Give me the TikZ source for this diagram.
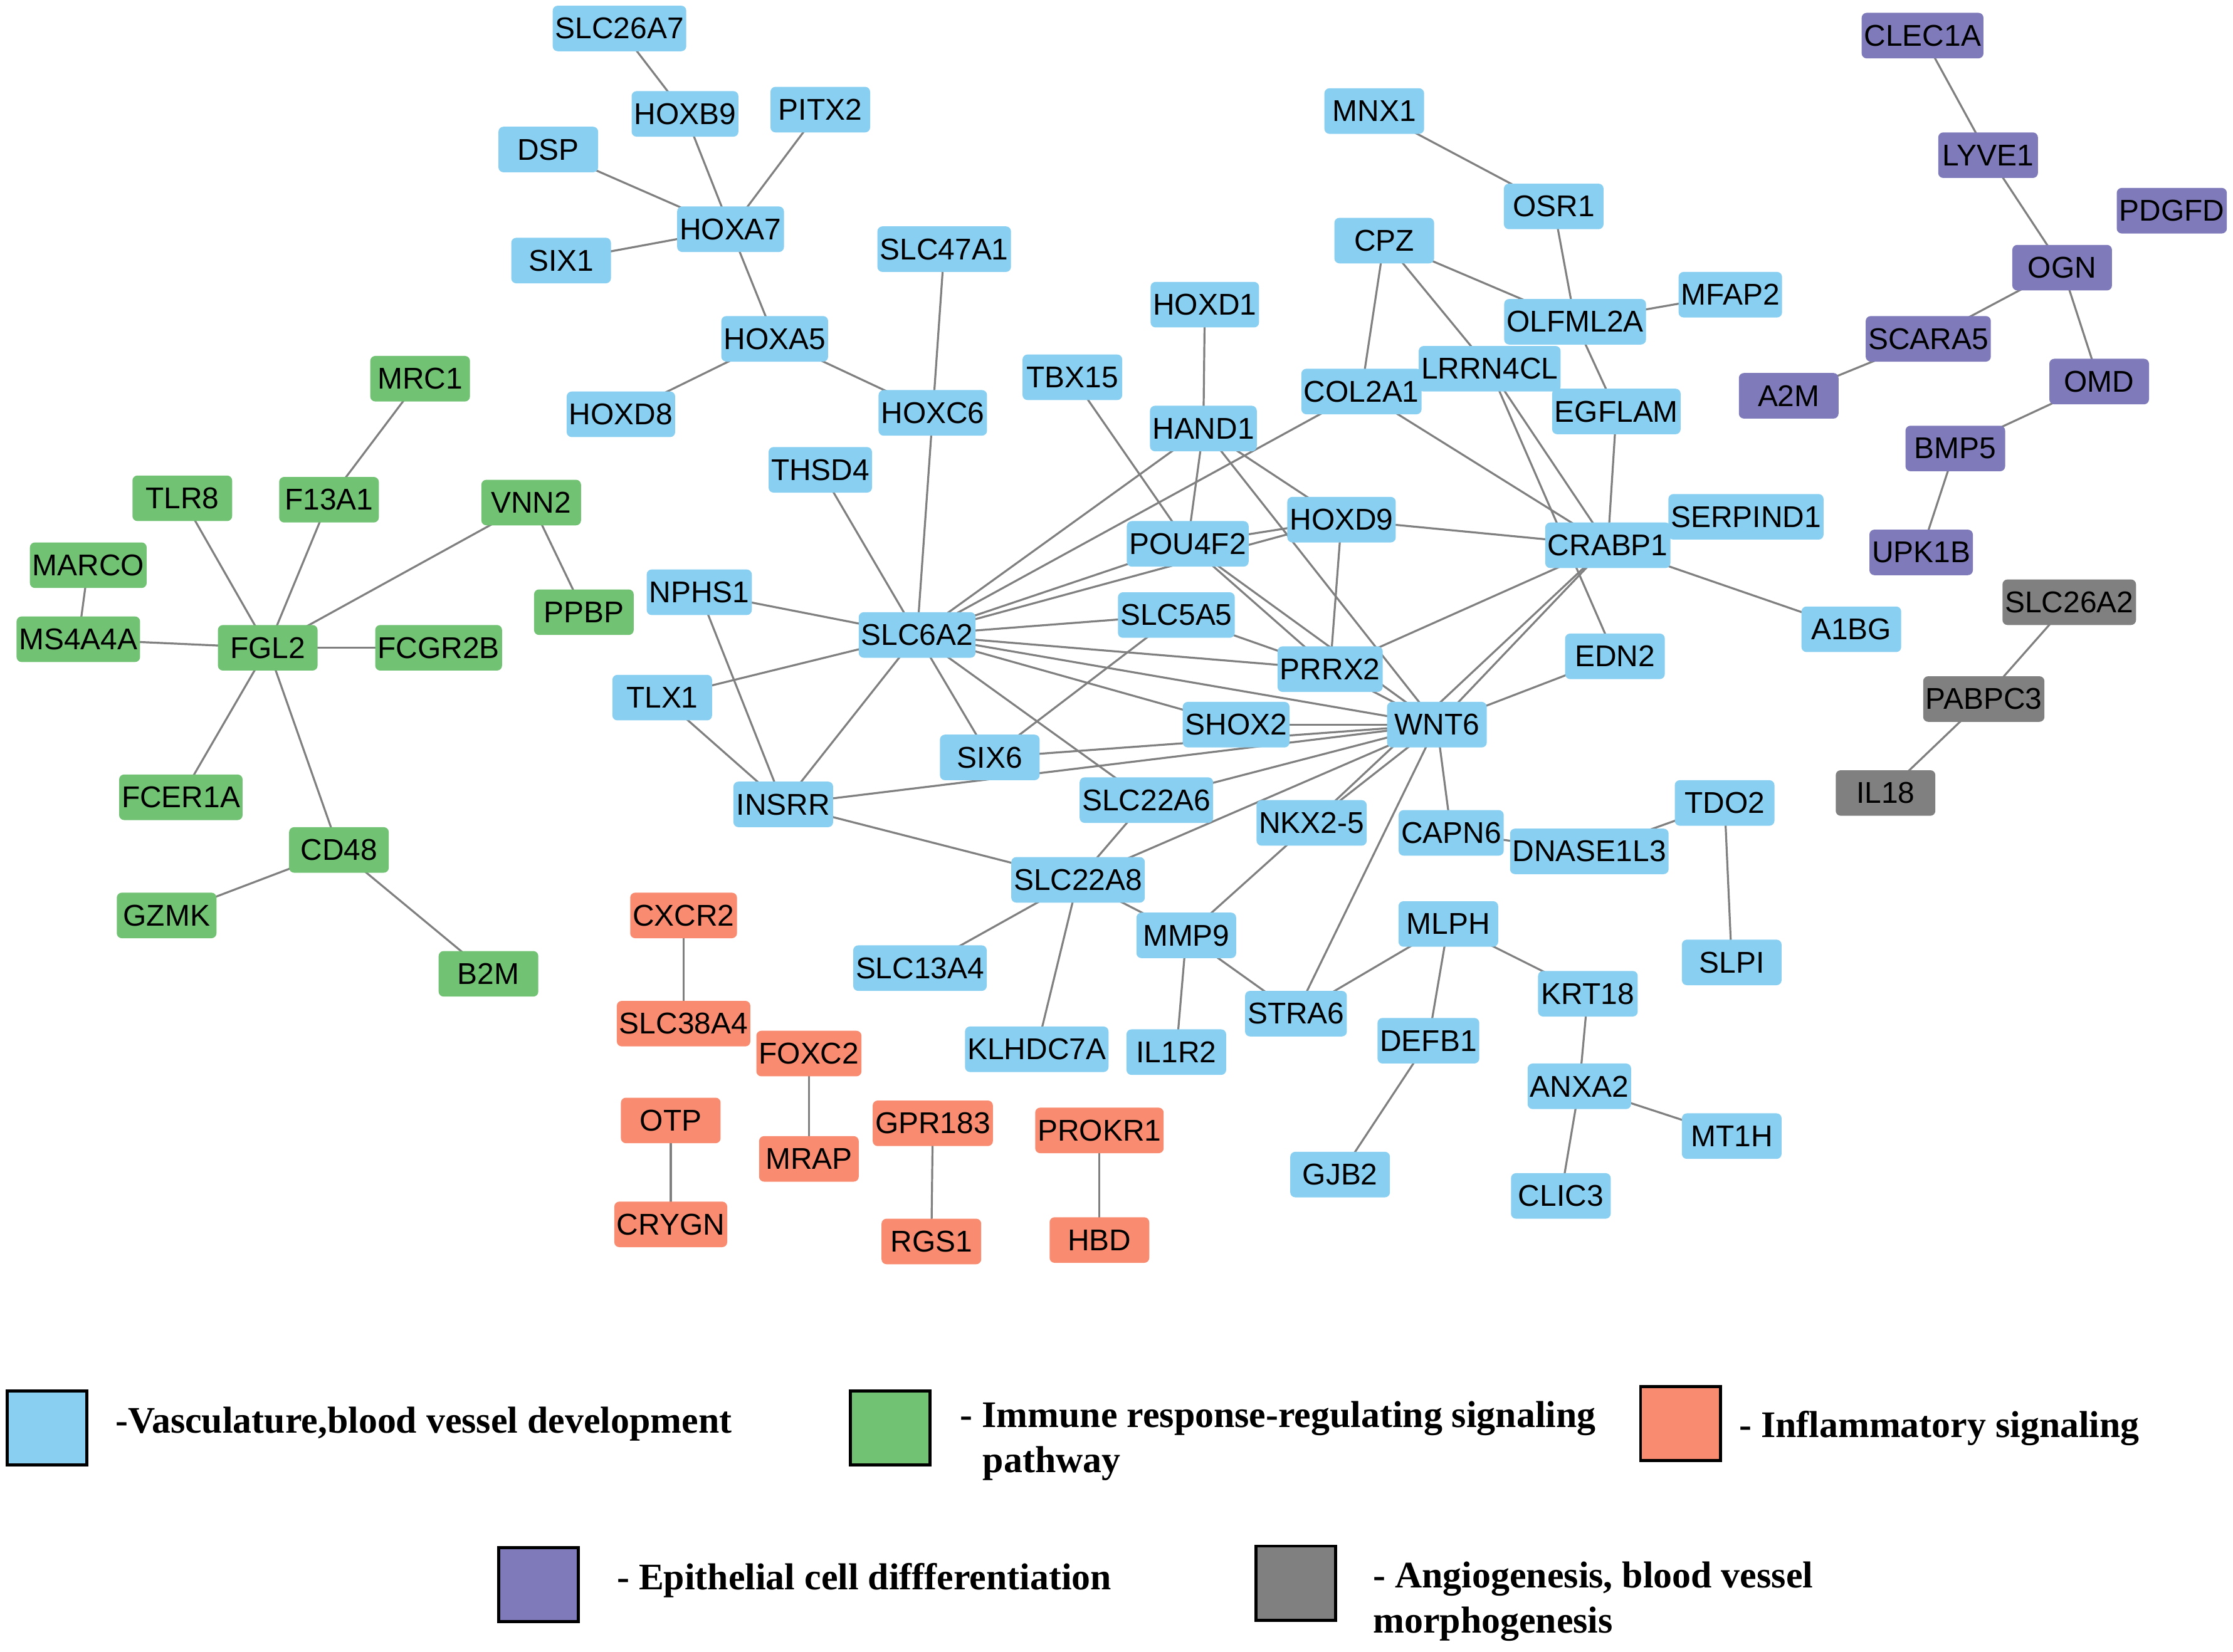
\documentclass[tikz,border=0pt]{standalone}
\usepackage{fontspec}
\setmainfont{Liberation Sans}
\newfontfamily\legendfont{Liberation Serif}
\usepackage{tikz}
\usetikzlibrary{shapes,arrows,positioning}
\pgfdeclarelayer{background}
\pgfsetlayers{background,main}
\definecolor{vasc}{RGB}{137,207,242}
\definecolor{immu}{RGB}{114,194,116}
\definecolor{infl}{RGB}{249,140,112}
\definecolor{epit}{RGB}{127,123,186}
\definecolor{angi}{RGB}{128,128,128}
\tikzstyle{gene} = [rectangle, rounded corners=2pt, minimum width=1.4cm, minimum height=0.64cm, inner xsep=1pt, font=\fontsize{12}{12}\selectfont]
\tikzstyle{blue} = [gene, fill=vasc]
\tikzstyle{green} = [gene, fill=immu]
\tikzstyle{orange} = [gene, fill=infl]
\tikzstyle{purple} = [gene, fill=epit]
\tikzstyle{grey} = [gene, fill=angi]
\tikzstyle{line} = [draw, color=black!50, line width=0.8pt]
\tikzstyle{key} = [rectangle, draw=black, line width=1.2pt, minimum width=1.12cm, minimum height=1.04cm]
\tikzstyle{keytext} = [anchor=west, font=\legendfont\bfseries\fontsize{15}{18}\selectfont, align=left]

\begin{document}
\begin{tikzpicture}[x=0.02cm, y=-0.02cm]
    \useasboundingbox (0,0) rectangle (1568,1160);
    % blue nodes
    \node [blue] (slc26a7) at (435,20) {SLC26A7};
    \node [blue] (hoxb9) at (481,80) {HOXB9};
    \node [blue] (pitx2) at (576,77) {PITX2};
    \node [blue] (dsp) at (385,105) {DSP};
    \node [blue] (hoxa7) at (513,161) {HOXA7};
    \node [blue] (six1) at (394,183) {SIX1};
    \node [blue] (slc47a1) at (663,175) {SLC47A1};
    \node [blue] (hoxa5) at (544,238) {HOXA5};
    \node [blue] (hoxd8) at (436,291) {HOXD8};
    \node [blue] (hoxc6) at (655,290) {HOXC6};
    \node [blue] (tbx15) at (753,265) {TBX15};
    \node [blue] (hoxd1) at (846,214) {HOXD1};
    \node [blue] (hand1) at (845,301) {HAND1};
    \node [blue] (thsd4) at (576,330) {THSD4};
    \node [blue] (mnx1) at (965,78) {MNX1};
    \node [blue] (osr1) at (1091,145) {OSR1};
    \node [blue] (cpz) at (972,169) {CPZ};
    \node [blue] (olfml2a) at (1106,226) {OLFML2A};
    \node [blue] (mfap2) at (1215,207) {MFAP2};
    \node [blue] (lrrn4cl) at (1046,259) {LRRN4CL};
    \node [blue] (col2a1) at (956,275) {COL2A1};
    \node [blue] (egflam) at (1135,289) {EGFLAM};
    \node [blue] (hoxd9) at (942,365) {HOXD9};
    \node [blue] (pou4f2) at (834,382) {POU4F2};
    \node [blue] (crabp1) at (1129,383) {CRABP1};
    \node [blue] (serpind1) at (1226,363) {SERPIND1};
    \node [blue] (nphs1) at (491,416) {NPHS1};
    \node [blue] (slc5a5) at (826,432) {SLC5A5};
    \node [blue] (slc6a2) at (644,446) {SLC6A2};
    \node [blue] (a1bg) at (1300,442) {A1BG};
    \node [blue] (prrx2) at (934,470) {PRRX2};
    \node [blue] (edn2) at (1134,461) {EDN2};
    \node [blue] (tlx1) at (465,490) {TLX1};
    \node [blue] (shox2) at (868,509) {SHOX2};
    \node [blue] (wnt6) at (1009,509) {WNT6};
    \node [blue] (six6) at (695,532) {SIX6};
    \node [blue] (insrr) at (550,565) {INSRR};
    \node [blue] (slc22a6) at (805,562) {SLC22A6};
    \node [blue] (nkx25) at (921,578) {NKX2-5};
    \node [blue] (capn6) at (1019,585) {CAPN6};
    \node [blue] (dnase1l3) at (1116,598) {DNASE1L3};
    \node [blue] (tdo2) at (1211,564) {TDO2};
    \node [blue] (slc22a8) at (757,618) {SLC22A8};
    \node [blue] (mmp9) at (833,657) {MMP9};
    \node [blue] (slc13a4) at (646,680) {SLC13A4};
    \node [blue] (mlph) at (1017,649) {MLPH};
    \node [blue] (krt18) at (1115,698) {KRT18};
    \node [blue] (slpi) at (1216,676) {SLPI};
    \node [blue] (stra6) at (910,712) {STRA6};
    \node [blue] (klhdc7a) at (728,737) {KLHDC7A};
    \node [blue] (il1r2) at (826,739) {IL1R2};
    \node [blue] (defb1) at (1003,731) {DEFB1};
    \node [blue] (anxa2) at (1109,763) {ANXA2};
    \node [blue] (mt1h) at (1216,798) {MT1H};
    \node [blue] (gjb2) at (941,825) {GJB2};
    \node [blue] (clic3) at (1096,840) {CLIC3};
    % green nodes
    \node [green] (mrc1) at (295,266) {MRC1};
    \node [green] (tlr8) at (128,350) {TLR8};
    \node [green] (f13a1) at (231,351) {F13A1};
    \node [green] (vnn2) at (373,353) {VNN2};
    \node [green] (marco) at (62,397) {MARCO};
    \node [green] (ppbp) at (410,430) {PPBP};
    \node [green] (ms4a4a) at (55,449) {MS4A4A};
    \node [green] (fgl2) at (188,455) {FGL2};
    \node [green] (fcgr2b) at (308,455) {FCGR2B};
    \node [green] (fcer1a) at (127,560) {FCER1A};
    \node [green] (cd48) at (238,597) {CD48};
    \node [green] (gzmk) at (117,643) {GZMK};
    \node [green] (b2m) at (343,684) {B2M};
    % orange nodes
    \node [orange] (cxcr2) at (480,643) {CXCR2};
    \node [orange] (slc38a4) at (480,719) {SLC38A4};
    \node [orange] (foxc2) at (568,740) {FOXC2};
    \node [orange] (otp) at (471,787) {OTP};
    \node [orange] (mrap) at (568,814) {MRAP};
    \node [orange] (gpr183) at (655,789) {GPR183};
    \node [orange] (prokr1) at (772,794) {PROKR1};
    \node [orange] (crygn) at (471,860) {CRYGN};
    \node [orange] (rgs1) at (654,872) {RGS1};
    \node [orange] (hbd) at (772,871) {HBD};
    % purple nodes
    \node [purple] (clec1a) at (1350,25) {CLEC1A};
    \node [purple] (lyve1) at (1396,109) {LYVE1};
    \node [purple] (pdgfd) at (1525,148) {PDGFD};
    \node [purple] (ogn) at (1448,188) {OGN};
    \node [purple] (scara5) at (1354,238) {SCARA5};
    \node [purple] (a2m) at (1256,278) {A2M};
    \node [purple] (omd) at (1474,268) {OMD};
    \node [purple] (bmp5) at (1373,315) {BMP5};
    \node [purple] (upk1b) at (1349,388) {UPK1B};
    % grey nodes
    \node [grey] (slc26a2) at (1453,423) {SLC26A2};
    \node [grey] (pabpc3) at (1393,491) {PABPC3};
    \node [grey] (il18) at (1324,557) {IL18};
    % Draw edges
    \begin{pgfonlayer}{background}
    \path [line] (slc26a7.center) -- (hoxb9.center);
    \path [line] (hoxb9.center) -- (hoxa7.center);
    \path [line] (pitx2.center) -- (hoxa7.center);
    \path [line] (dsp.center) -- (hoxa7.center);
    \path [line] (six1.center) -- (hoxa7.center);
    \path [line] (hoxa7.center) -- (hoxa5.center);
    \path [line] (hoxa5.center) -- (hoxd8.center);
    \path [line] (hoxa5.center) -- (hoxc6.center);
    \path [line] (slc47a1.center) -- (hoxc6.center);
    \path [line] (hoxc6.center) -- (slc6a2.center);
    \path [line] (tbx15.center) -- (pou4f2.center);
    \path [line] (hoxd1.center) -- (hand1.center);
    \path [line] (hand1.center) -- (pou4f2.center);
    \path [line] (hand1.center) -- (slc6a2.center);
    \path [line] (hand1.center) -- (hoxd9.center);
    \path [line] (hand1.center) -- (wnt6.center);
    \path [line] (col2a1.center) -- (slc6a2.center);
    \path [line] (col2a1.center) -- (crabp1.center);
    \path [line] (col2a1.center) -- (cpz.center);
    \path [line] (cpz.center) -- (lrrn4cl.center);
    \path [line] (cpz.center) -- (olfml2a.center);
    \path [line] (osr1.center) -- (olfml2a.center);
    \path [line] (mnx1.center) -- (osr1.center);
    \path [line] (olfml2a.center) -- (mfap2.center);
    \path [line] (olfml2a.center) -- (egflam.center);
    \path [line] (egflam.center) -- (crabp1.center);
    \path [line] (lrrn4cl.center) -- (crabp1.center);
    \path [line] (lrrn4cl.center) -- (edn2.center);
    \path [line] (slc6a2.center) -- (pou4f2.center);
    \path [line] (slc6a2.center) -- (hoxd9.center);
    \path [line] (pou4f2.center) -- (hoxd9.center);
    \path [line] (hoxd9.center) -- (crabp1.center);
    \path [line] (hoxd9.center) -- (prrx2.center);
    \path [line] (pou4f2.center) -- (prrx2.center);
    \path [line] (pou4f2.center) -- (wnt6.center);
    \path [line] (slc6a2.center) -- (slc5a5.center);
    \path [line] (slc5a5.center) -- (prrx2.center);
    \path [line] (slc5a5.center) -- (six6.center);
    \path [line] (slc6a2.center) -- (prrx2.center);
    \path [line] (slc6a2.center) -- (wnt6.center);
    \path [line] (slc6a2.center) -- (shox2.center);
    \path [line] (slc6a2.center) -- (six6.center);
    \path [line] (slc6a2.center) -- (slc22a6.center);
    \path [line] (slc6a2.center) -- (insrr.center);
    \path [line] (slc6a2.center) -- (tlx1.center);
    \path [line] (slc6a2.center) -- (nphs1.center);
    \path [line] (slc6a2.center) -- (thsd4.center);
    \path [line] (nphs1.center) -- (insrr.center);
    \path [line] (tlx1.center) -- (insrr.center);
    \path [line] (insrr.center) -- (slc22a8.center);
    \path [line] (insrr.center) -- (wnt6.center);
    \path [line] (six6.center) -- (wnt6.center);
    \path [line] (shox2.center) -- (wnt6.center);
    \path [line] (prrx2.center) -- (crabp1.center);
    \path [line] (prrx2.center) -- (wnt6.center);
    \path [line] (crabp1.center) -- (wnt6.center);
    \path [line] (crabp1.center) -- (nkx25.center);
    \path [line] (crabp1.center) -- (serpind1.center);
    \path [line] (crabp1.center) -- (a1bg.center);
    \path [line] (edn2.center) -- (wnt6.center);
    \path [line] (wnt6.center) -- (nkx25.center);
    \path [line] (wnt6.center) -- (slc22a8.center);
    \path [line] (wnt6.center) -- (slc22a6.center);
    \path [line] (wnt6.center) -- (capn6.center);
    \path [line] (wnt6.center) -- (stra6.center);
    \path [line] (capn6.center) -- (dnase1l3.center);
    \path [line] (dnase1l3.center) -- (tdo2.center);
    \path [line] (tdo2.center) -- (slpi.center);
    \path [line] (slc22a6.center) -- (slc22a8.center);
    \path [line] (slc22a8.center) -- (slc13a4.center);
    \path [line] (slc22a8.center) -- (klhdc7a.center);
    \path [line] (slc22a8.center) -- (mmp9.center);
    \path [line] (nkx25.center) -- (mmp9.center);
    \path [line] (mmp9.center) -- (il1r2.center);
    \path [line] (mmp9.center) -- (stra6.center);
    \path [line] (stra6.center) -- (mlph.center);
    \path [line] (mlph.center) -- (krt18.center);
    \path [line] (mlph.center) -- (defb1.center);
    \path [line] (krt18.center) -- (anxa2.center);
    \path [line] (anxa2.center) -- (mt1h.center);
    \path [line] (anxa2.center) -- (clic3.center);
    \path [line] (defb1.center) -- (gjb2.center);
    % green edges
    \path [line] (mrc1.center) -- (f13a1.center);
    \path [line] (f13a1.center) -- (fgl2.center);
    \path [line] (tlr8.center) -- (fgl2.center);
    \path [line] (vnn2.center) -- (fgl2.center);
    \path [line] (vnn2.center) -- (ppbp.center);
    \path [line] (marco.center) -- (ms4a4a.center);
    \path [line] (ms4a4a.center) -- (fgl2.center);
    \path [line] (fgl2.center) -- (fcgr2b.center);
    \path [line] (fgl2.center) -- (fcer1a.center);
    \path [line] (fgl2.center) -- (cd48.center);
    \path [line] (cd48.center) -- (gzmk.center);
    \path [line] (cd48.center) -- (b2m.center);
    % orange edges
    \path [line] (cxcr2.center) -- (slc38a4.center);
    \path [line] (foxc2.center) -- (mrap.center);
    \path [line] (otp.center) -- (crygn.center);
    \path [line] (gpr183.center) -- (rgs1.center);
    \path [line] (prokr1.center) -- (hbd.center);
    % purple and grey edges
    \path [line] (clec1a.center) -- (lyve1.center);
    \path [line] (lyve1.center) -- (ogn.center);
    \path [line] (ogn.center) -- (scara5.center);
    \path [line] (ogn.center) -- (omd.center);
    \path [line] (scara5.center) -- (a2m.center);
    \path [line] (omd.center) -- (bmp5.center);
    \path [line] (bmp5.center) -- (upk1b.center);
    \path [line] (slc26a2.center) -- (pabpc3.center);
    \path [line] (pabpc3.center) -- (il18.center);
    \end{pgfonlayer}
    % legend
    \node [key, fill=vasc] (kvasc) at (33,1003) {};
    \node [keytext] (tvasc) at (75,1000) {-Vasculature,blood vessel development};
    \node [key, fill=immu] (kimmu) at (625,1003) {};
    \node [keytext] (timmu) at (668,1012) {- Immune response-regulating signaling\\\hspace*{0.32cm}pathway};
    \node [key, fill=infl] (kinfl) at (1180,1000) {};
    \node [keytext] (tinfl) at (1215,1003) {- Inflammatory signaling};
    \node [key, fill=epit] (kepit) at (378,1113) {};
    \node [keytext] (tepit) at (427,1110) {- Epithelial cell diffferentiation};
    \node [key, fill=angi] (kangi) at (910,1112) {};
    \node [keytext] (tangi) at (958,1125) {- Angiogenesis, blood vessel\\morphogenesis};
\end{tikzpicture}
\end{document}
